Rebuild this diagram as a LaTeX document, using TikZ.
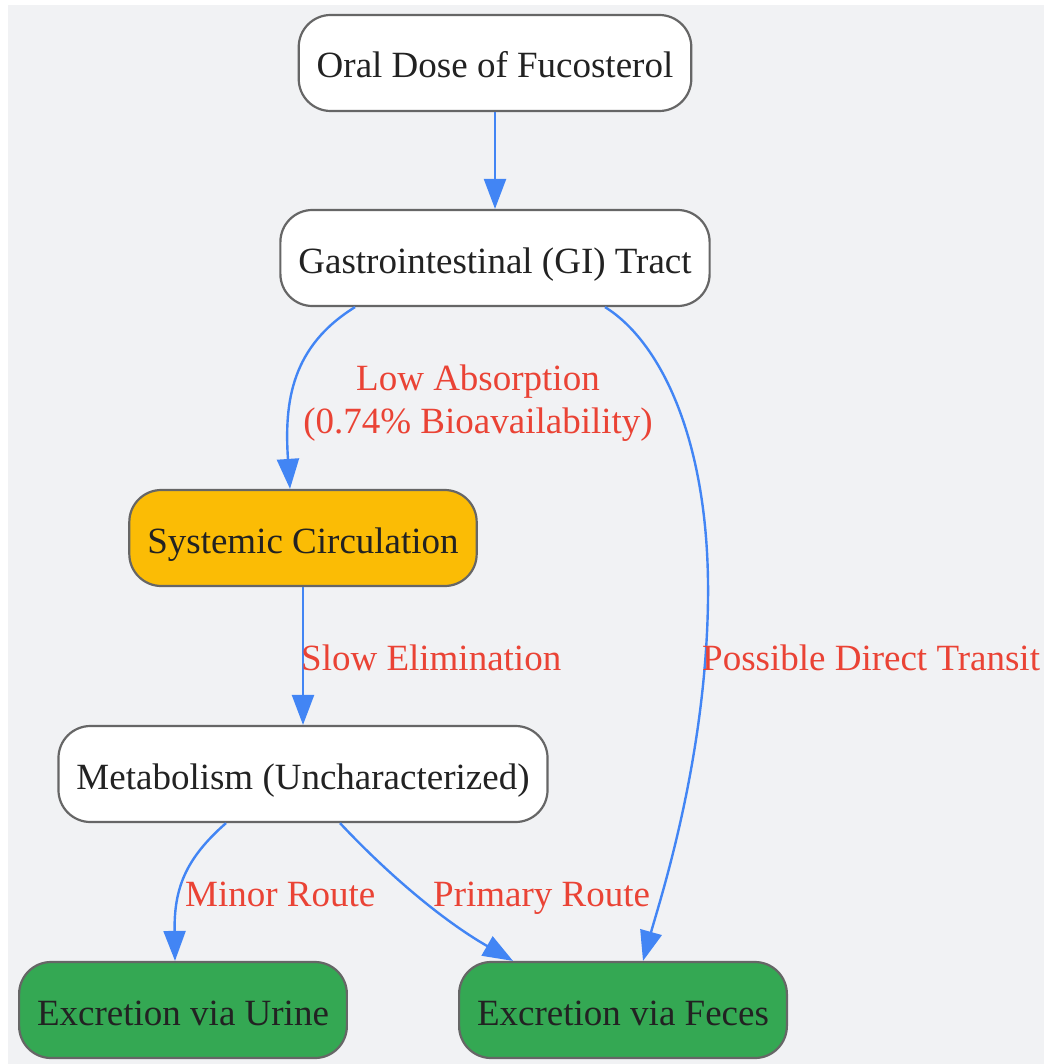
\documentclass[tikz,border=0pt]{standalone}
\usepackage{fontspec}
\setmainfont{Liberation Serif}
\usetikzlibrary{arrows.meta}

\newlength{\du}
\setlength{\du}{1pt}

\definecolor{bgcolor}{HTML}{F1F2F4}
\definecolor{boxline}{HTML}{666666}
\definecolor{flowblue}{HTML}{4285F4}
\definecolor{labelred}{HTML}{EA4335}
\definecolor{circyellow}{HTML}{FBBC05}
\definecolor{excgreen}{HTML}{34A853}
\definecolor{txtcolor}{HTML}{222222}

\tikzset{
  box/.style={draw=boxline, line width=2.2\du, rounded corners=32\du, fill=white,
    minimum height=96\du, inner xsep=18\du, text height=30\du, text depth=0\du,
    text=txtcolor, font=\fontsize{37}{43}\selectfont},
  flow/.style={draw=flowblue, line width=2.4\du, -{Triangle[length=30pt,width=22pt]}},
  lbl/.style={text=labelred, font=\fontsize{37}{43}\selectfont, inner sep=0pt},
}

\begin{document}
\begin{tikzpicture}[yscale=-1]
\useasboundingbox (0\du,0\du) rectangle (1044\du,1064\du);
\fill[bgcolor] (8\du,5\du) rectangle (1044\du,1064\du);
% boxes
\node[box] (oral) at (495\du,63\du) {Oral Dose of Fucosterol};
\node[box] (gi) at (495\du,258\du) {Gastrointestinal (GI) Tract};
\node[box, fill=circyellow] (sys) at (303\du,538\du) {Systemic Circulation};
\node[box] (met) at (303\du,774\du) {Metabolism (Uncharacterized)};
\node[box, fill=excgreen] (uri) at (183\du,1010\du) {Excretion via Urine};
\node[box, fill=excgreen] (fec) at (623\du,1010\du) {Excretion via Feces};
% connectors
\draw[flow] (oral) -- (gi);
\draw[flow] ([xshift=-140\du]gi.south) .. controls +(-63\du,39\du) and +(-6\du,-88\du) .. ([xshift=-13\du]sys.north);
\draw[flow] ([xshift=110\du]gi.south) .. controls +(55\du,34\du) and (710\du,440\du) .. (708\du,600\du)
  .. controls (706\du,760\du) and (660\du,900\du) .. ([xshift=20\du]fec.north);
\draw[flow] (sys) -- (met);
\draw[flow] ([xshift=-77\du]met.south) .. controls +(-41\du,36\du) and +(-1\du,-72\du) .. ([xshift=-8\du]uri.north);
\draw[flow] ([xshift=37\du]met.south) .. controls +(45\du,48\du) and +(-73\du,-42\du) .. ([xshift=-110\du]fec.north);
% labels
\node[lbl, align=center] (lowabs) at (478\du,403\du) {Low Absorption\\(0.74\% Bioavailability)};
\node[lbl, anchor=base west] (slowel) at (301\du,670\du) {Slow Elimination};
\node[lbl, anchor=base west] (direct) at (702\du,670\du) {Possible Direct Transit};
\node[lbl, anchor=base west] (minor) at (185\du,906\du) {Minor Route};
\node[lbl, anchor=base west] (primary) at (433\du,906\du) {Primary Route};
\end{tikzpicture}
\end{document}
